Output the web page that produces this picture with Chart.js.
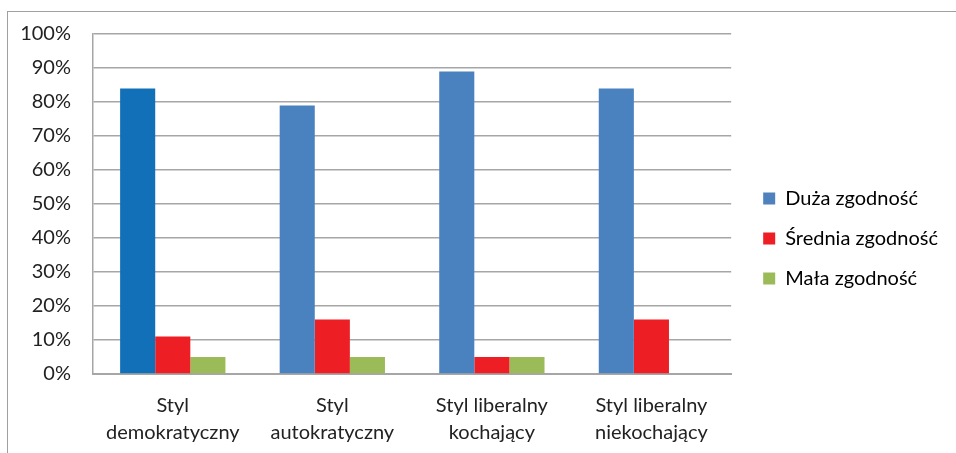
<!DOCTYPE html>
<html>
<head>
<meta charset="utf-8">
<script src="https://cdn.jsdelivr.net/npm/chart.js@4/dist/chart.umd.min.js"></script>
<style>
  html, body { margin: 0; padding: 0; background: #fff; }
  #wrap { position: relative; width: 956px; height: 453px; }
  #frame { position: absolute; left: 7px; top: 11px; width: 960px; height: 460px;
           border-top: 1px solid #a0a0a0; border-left: 1px solid #a0a0a0; }
  canvas { position: absolute; left: 0; top: 0; }
</style>
</head>
<body>
<div id="wrap">
  <div id="frame"></div>
  <canvas id="chart" width="956" height="453"></canvas>
</div>
<script>
const kategorie = [
  ['Styl', 'demokratyczny'],
  ['Styl', 'autokratyczny'],
  ['Styl liberalny', 'kochający'],
  ['Styl liberalny', 'niekochający']
];
const duza = [84, 79, 89, 84];
const srednia = [11, 16, 5, 16];
const mala = [5, 5, 5, 0];

const font = { family: 'Lato', size: 20 };

// przesuwa legendę w prawo, bez zmiany obszaru wykresu
const legendShift = {
  id: 'legendShift',
  afterLayout(chart) {
    chart.legend.left += 12;
    chart.legend.right += 12;
  }
};

new Chart(document.getElementById('chart'), {
  type: 'bar',
  data: {
    labels: kategorie,
    datasets: [
      { label: 'Duża zgodność', data: duza,
        backgroundColor: ['#1270b8', '#4a81bf', '#4a81bf', '#4a81bf'] },
      { label: 'Średnia zgodność', data: srednia, backgroundColor: '#ee1f24' },
      { label: 'Mała zgodność', data: mala, backgroundColor: '#9bbb59' }
    ]
  },
  options: {
    responsive: false,
    animation: false,
    layout: { padding: { left: 0, top: 34, right: 20, bottom: 10 } },
    datasets: { bar: { categoryPercentage: 0.66, barPercentage: 1.0 } },
    plugins: {
      tooltip: { enabled: false },
      legend: {
        position: 'right',
        labels: {
          generateLabels: chart => chart.data.datasets.map((ds, i) => ({
            text: ds.label,
            fillStyle: ['#4f81bd', '#ee1f24', '#9bbb59'][i],
            strokeStyle: 'transparent',
            lineWidth: 0,
            datasetIndex: i
          })),
          boxWidth: 12, boxHeight: 12,
          padding: 20,
          color: '#222',
          font: font
        }
      }
    },
    scales: {
      x: {
        afterFit: s => { s.height = 69; },
        grid: { display: false },
        border: { color: '#a6a6a6', width: 2 },
        ticks: { color: '#222', font: { family: 'Lato', size: 20, lineHeight: 1.35 },
                 padding: 10, maxRotation: 0 }
      },
      y: {
        min: 0, max: 100,
        afterFit: s => { s.width = 93; },
        grid: { color: '#a6a6a6', lineWidth: 1.5, drawTicks: false },
        border: { color: '#a6a6a6', width: 1.5 },
        ticks: { stepSize: 10, color: '#222', font: font, padding: 22,
                 callback: v => v + '%' }
      }
    }
  },
  plugins: [legendShift]
});
</script>
</body>
</html>
